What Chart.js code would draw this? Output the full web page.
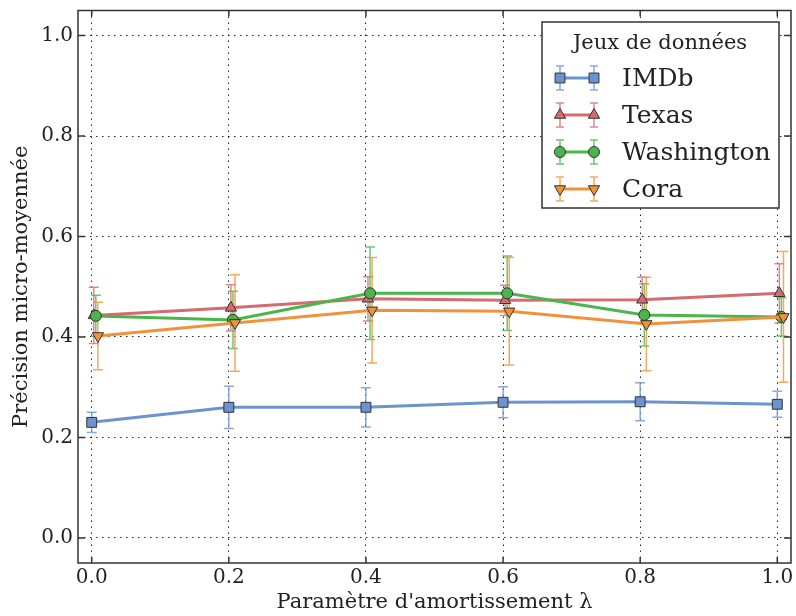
<!DOCTYPE html>
<html>
<head>
<meta charset="utf-8">
<script src="https://cdn.jsdelivr.net/npm/chart.js@4.4.0/dist/chart.umd.min.js"></script>
<style>
html, body { margin: 0; padding: 0; background: #fff; }
#conteneur { width: 796px; height: 616px; }
</style>
</head>
<body>
<div id="conteneur"><canvas id="graphique" width="796" height="616"></canvas></div>
<script>
// valeurs
const lambdas = [0.0, 0.2, 0.4, 0.6, 0.8, 1.0];
const ticksX = [0.0, 0.2, 0.4, 0.6, 0.8, 1.0];
const ticksY = [0.0, 0.2, 0.4, 0.6, 0.8, 1.0];

const imdb = [0.230, 0.260, 0.260, 0.270, 0.271, 0.266];
const imdbErr = [0.020, 0.042, 0.039, 0.031, 0.038, 0.026];
const texas = [0.443, 0.458, 0.476, 0.473, 0.474, 0.487];
const texasErr = [0.056, 0.046, 0.044, 0.030, 0.045, 0.059];
const washington = [0.442, 0.434, 0.487, 0.487, 0.444, 0.440];
const washingtonErr = [0.041, 0.057, 0.092, 0.074, 0.062, 0.038];
const cora = [0.402, 0.428, 0.453, 0.451, 0.426, 0.440];
const coraErr = [0.067, 0.096, 0.105, 0.107, 0.093, 0.130];

// petit decalage horizontal entre les series (comme sur l'original)
const decalages = [0, 0.003, 0.006, 0.009];

const police = "'DejaVu Serif', serif";

const series = [
    { label: "IMDb", valeurs: imdb, erreurs: imdbErr, couleur: "#6b93cf", erreur: "rgba(107,147,207,0.8)", style: "rect", rayon: 7, rotation: 0 },
    { label: "Texas", valeurs: texas, erreurs: texasErr, couleur: "#d46c6f", erreur: "rgba(212,108,111,0.8)", style: "triangle", rayon: 6.5, rotation: 0 },
    { label: "Washington", valeurs: washington, erreurs: washingtonErr, couleur: "#4bb54c", erreur: "rgba(75,181,76,0.8)", style: "circle", rayon: 5.5, rotation: 0 },
    { label: "Cora", valeurs: cora, erreurs: coraErr, couleur: "#f0923c", erreur: "rgba(240,146,60,0.8)", style: "triangle", rayon: 6.5, rotation: 180 }
];

const datasets = series.map((s, i) => ({
    label: s.label,
    data: lambdas.map((x, j) => ({ x: x + decalages[i], y: s.valeurs[j] })),
    erreurs: s.erreurs,
    couleurErreur: s.erreur,
    borderColor: s.couleur,
    backgroundColor: s.couleur,
    borderWidth: 3,
    pointStyle: s.style,
    pointRadius: s.rayon,
    pointHoverRadius: s.rayon,
    pointRotation: s.rotation,
    pointBackgroundColor: s.couleur,
    pointBorderColor: "#333",
    pointBorderWidth: 1,
    tension: 0,
    order: series.length - i
}));

const barresErreur = {
    id: "barresErreur",
    beforeDatasetsDraw(chart) {
        const ctx = chart.ctx;
        const echelleY = chart.scales.y;
        chart.data.datasets.forEach((ds, i) => {
            const meta = chart.getDatasetMeta(i);
            ctx.save();
            ctx.strokeStyle = ds.couleurErreur;
            ctx.lineWidth = 1.5;
            meta.data.forEach((pt, j) => {
                const v = ds.data[j].y;
                const e = ds.erreurs[j];
                const haut = echelleY.getPixelForValue(v + e);
                const bas = echelleY.getPixelForValue(v - e);
                ctx.beginPath();
                ctx.moveTo(pt.x, haut); ctx.lineTo(pt.x, bas);
                ctx.moveTo(pt.x - 5, haut); ctx.lineTo(pt.x + 5, haut);
                ctx.moveTo(pt.x - 5, bas); ctx.lineTo(pt.x + 5, bas);
                ctx.stroke();
            });
            ctx.restore();
        });
    }
};

const cadre = {
    id: "cadre",
    afterDraw(chart) {
        const ctx = chart.ctx;
        const a = chart.chartArea;
        const ex = chart.scales.x, ey = chart.scales.y;
        ctx.save();
        ctx.strokeStyle = "#333";
        ctx.lineWidth = 1.5;
        ctx.strokeRect(a.left, a.top, a.right - a.left, a.bottom - a.top);
        ctx.beginPath();
        ticksX.forEach(v => {
            const px = ex.getPixelForValue(v);
            ctx.moveTo(px, a.bottom); ctx.lineTo(px, a.bottom - 6);
            ctx.moveTo(px, a.top); ctx.lineTo(px, a.top + 6);
        });
        ticksY.forEach(v => {
            const py = ey.getPixelForValue(v);
            ctx.moveTo(a.left, py); ctx.lineTo(a.left + 7, py);
            ctx.moveTo(a.right, py); ctx.lineTo(a.right - 7, py);
        });
        ctx.stroke();
        ctx.restore();
    }
};

function dessinerMarqueur(ctx, ds, x, y) {
    Chart.helpers.drawPoint(ctx, {
        pointStyle: ds.pointStyle,
        rotation: ds.pointRotation,
        radius: ds.pointRadius,
        borderWidth: 1
    }, x, y);
}

const legende = {
    id: "legende",
    afterDraw(chart) {
        const ctx = chart.ctx;
        const gauche = 542, haut = 22, largeur = 237, hauteur = 186;
        ctx.save();
        ctx.fillStyle = "#fff";
        ctx.fillRect(gauche, haut, largeur, hauteur);
        ctx.strokeStyle = "#333";
        ctx.lineWidth = 1.5;
        ctx.strokeRect(gauche, haut, largeur, hauteur);

        ctx.fillStyle = "#222";
        ctx.font = "21px " + police;
        ctx.textAlign = "center";
        ctx.textBaseline = "middle";
        ctx.fillText("Jeux de données", 660, 44);

        ctx.font = "25px " + police;
        ctx.textAlign = "left";
        chart.data.datasets.forEach((ds, i) => {
            const yc = 78 + i * 37;
            const x1 = 560, x2 = 594;
            ctx.strokeStyle = ds.couleurErreur;
            ctx.lineWidth = 1.5;
            ctx.beginPath();
            [x1, x2].forEach(x => {
                ctx.moveTo(x, yc - 12); ctx.lineTo(x, yc + 12);
                ctx.moveTo(x - 4, yc - 12); ctx.lineTo(x + 4, yc - 12);
                ctx.moveTo(x - 4, yc + 12); ctx.lineTo(x + 4, yc + 12);
            });
            ctx.stroke();
            ctx.strokeStyle = ds.borderColor;
            ctx.lineWidth = 3;
            ctx.beginPath();
            ctx.moveTo(x1, yc); ctx.lineTo(x2, yc);
            ctx.stroke();
            ctx.fillStyle = ds.pointBackgroundColor;
            ctx.strokeStyle = "#333";
            ctx.lineWidth = 1;
            dessinerMarqueur(ctx, ds, x1, yc);
            dessinerMarqueur(ctx, ds, x2, yc);
            ctx.fillStyle = "#222";
            ctx.fillText(ds.label, 622, yc + 1);
        });
        ctx.restore();
    }
};

new Chart(document.getElementById("graphique"), {
    type: "line",
    data: { datasets: datasets },
    plugins: [barresErreur, cadre, legende],
    options: {
        responsive: false,
        animation: false,
        devicePixelRatio: 1,
        layout: { autoPadding: false, padding: { left: 0, top: 10.5, right: 5, bottom: 0 } },
        plugins: {
            legend: { display: false },
            tooltip: { enabled: false }
        },
        scales: {
            x: {
                type: "linear",
                min: -0.02,
                max: 1.02,
                afterBuildTicks: (s) => { s.ticks = ticksX.map(v => ({ value: v })); },
                afterFit: (s) => { s.height = 53; s.paddingLeft = 0; s.paddingRight = 0; },
                grid: { color: "rgba(0,0,0,0.85)", lineWidth: 1, drawTicks: false },
                border: { display: false, dash: [1.5, 4.5] },
                ticks: {
                    padding: 3,
                    color: "#222",
                    font: { family: police, size: 20 },
                    callback: (v) => Number(v).toFixed(1)
                },
                title: {
                    display: true,
                    text: "Paramètre d'amortissement λ",
                    color: "#222",
                    font: { family: police, size: 21 },
                    padding: { top: 0, bottom: 1 }
                }
            },
            y: {
                min: -0.05,
                max: 1.05,
                afterBuildTicks: (s) => { s.ticks = ticksY.map(v => ({ value: v })); },
                afterFit: (s) => { s.width = 78; s.paddingTop = 0; s.paddingBottom = 0; },
                grid: { color: "rgba(0,0,0,0.85)", lineWidth: 1, drawTicks: false },
                border: { display: false, dash: [1.5, 4.5] },
                ticks: {
                    padding: 5,
                    color: "#222",
                    font: { family: police, size: 20 },
                    callback: (v) => Number(v).toFixed(1)
                },
                title: {
                    display: true,
                    text: "Précision micro-moyennée",
                    color: "#222",
                    font: { family: police, size: 21 },
                    padding: { top: 9, bottom: 0 }
                }
            }
        }
    }
});
</script>
</body>
</html>
